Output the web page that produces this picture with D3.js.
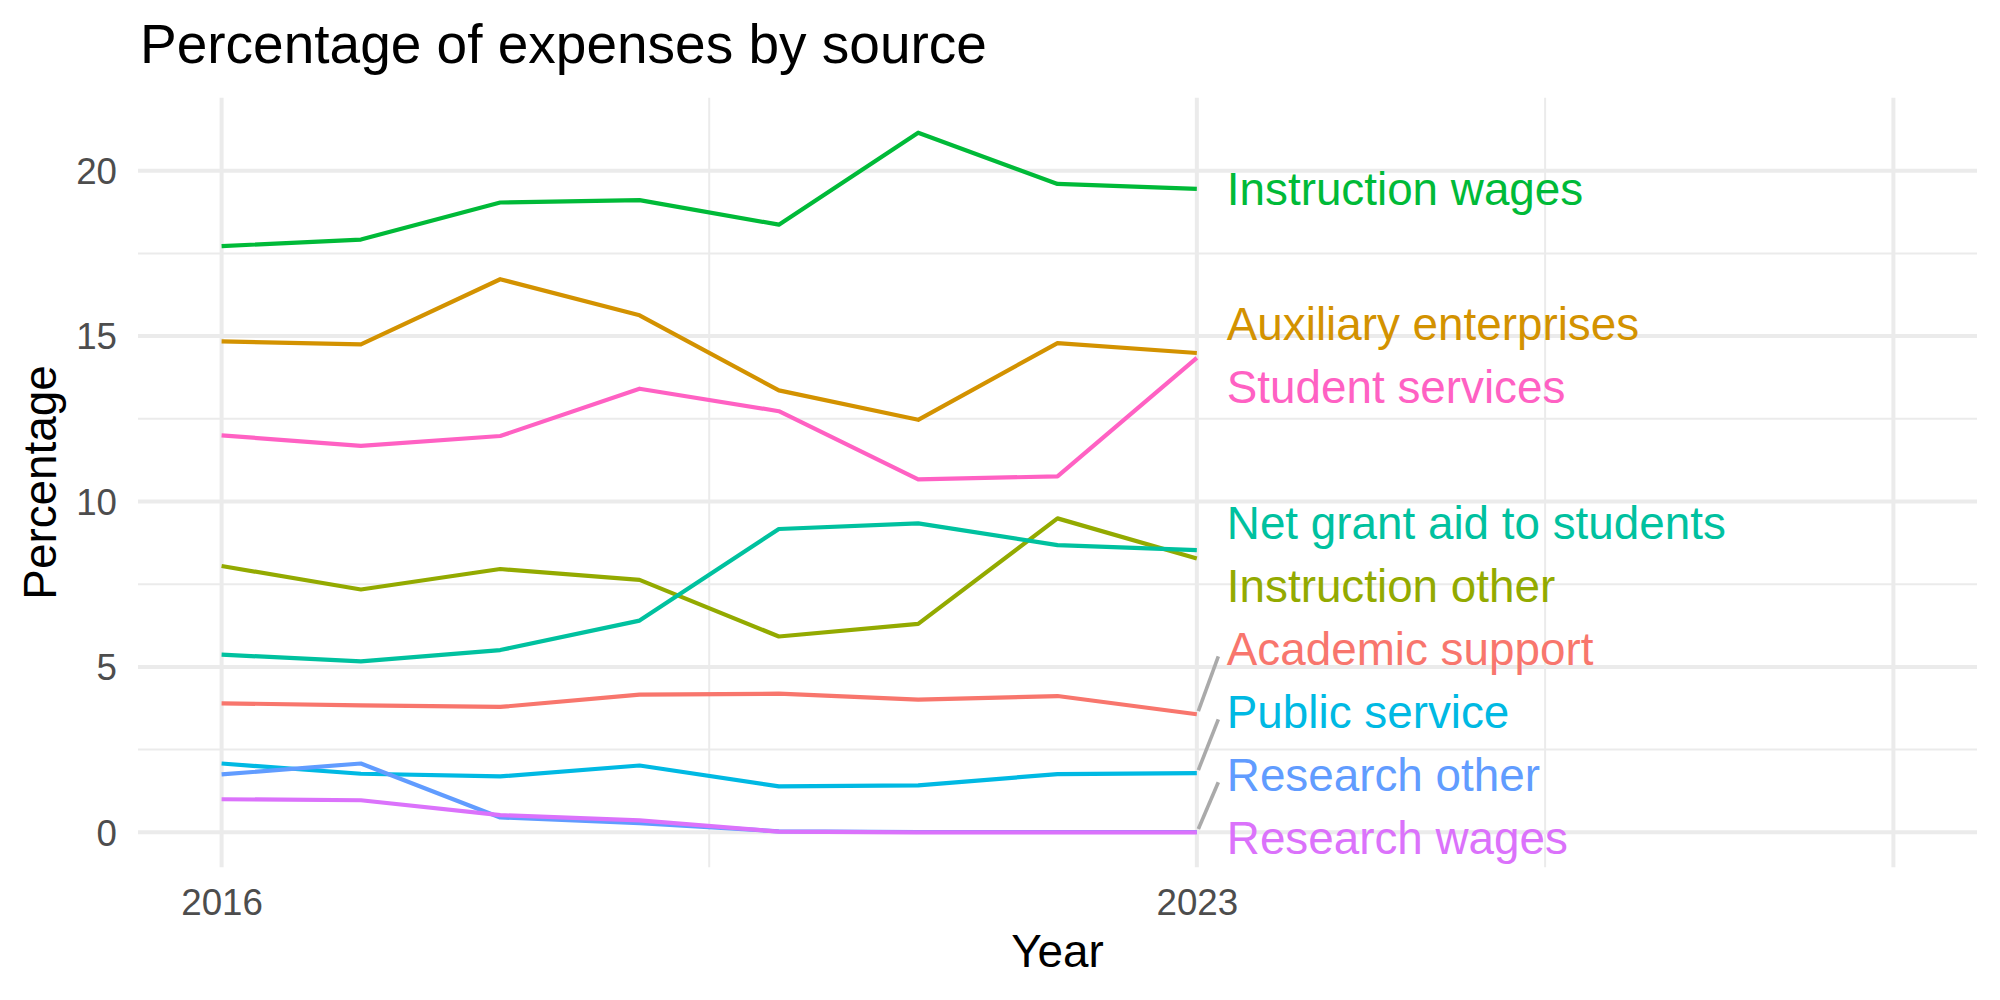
<!DOCTYPE html>
<html>
<head>
<meta charset="utf-8">
<script src="https://cdn.jsdelivr.net/npm/d3@7"></script>
<style>
  body { margin: 0; background: #fff; }
  svg { display: block; font-family: "Liberation Sans", Arial, sans-serif; }
</style>
</head>
<body>
<svg id="chart"></svg>
<script>
// data
const years = [2016, 2017, 2018, 2019, 2020, 2021, 2022, 2023];
const xBreaks = [2016, 2023, 2028];
const xLabels = ["2016", "2023", ""];
const yBreaks = [0, 5, 10, 15, 20];

const categories = [
  "Academic support", "Auxiliary enterprises", "Instruction other",
  "Instruction wages", "Net grant aid to students", "Public service",
  "Research other", "Research wages", "Student services"
];
const academicSupport      = [3.90, 3.84, 3.79, 4.16, 4.19, 4.01, 4.12, 3.57];
const auxiliaryEnterprises = [14.84, 14.75, 16.72, 15.63, 13.36, 12.47, 14.79, 14.49];
const instructionOther     = [8.05, 7.34, 7.96, 7.63, 5.92, 6.30, 9.49, 8.28];
const instructionWages     = [17.72, 17.92, 19.04, 19.11, 18.37, 21.15, 19.60, 19.45];
const netGrantAid          = [5.37, 5.17, 5.51, 6.40, 9.17, 9.34, 8.68, 8.53];
const publicService        = [2.08, 1.77, 1.69, 2.02, 1.39, 1.42, 1.76, 1.79];
const researchOther        = [1.75, 2.08, 0.45, 0.28, 0.03, 0.01, 0.01, 0.01];
const researchWages        = [1.00, 0.97, 0.52, 0.36, 0.02, 0.00, 0.00, 0.00];
const studentServices      = [12.00, 11.68, 11.98, 13.41, 12.73, 10.67, 10.76, 14.34];

const colors = ["#F8766D", "#D39200", "#93AA00", "#00BA38", "#00C19F",
                "#00B9E3", "#619CFF", "#DB72FB", "#FF61C3"];

const seriesValues = [academicSupport, auxiliaryEnterprises, instructionOther,
  instructionWages, netGrantAid, publicService, researchOther, researchWages, studentServices];

const series = categories.map((name, i) => ({
  name: name,
  color: colors[i],
  points: years.map((yr, j) => ({ year: yr, value: seriesValues[i][j] }))
}));

const W = 2000, H = 1000;
const panel = { left: 138, right: 1977, top: 97.7, bottom: 867.3 };

const svg = d3.select("#chart").attr("width", W).attr("height", H);

// ggplot style 5% expansion
const xMin = 2016, xMax = 2028;
const xPad = (xMax - xMin) * 0.05;
const x = d3.scaleLinear()
  .domain([xMin - xPad, xMax + xPad])
  .range([panel.left, panel.right]);

const allVals = seriesValues.flat();
const yLo = d3.min(allVals), yHi = d3.max(allVals);
const yPad = (yHi - yLo) * 0.05;
const y = d3.scaleLinear()
  .domain([yLo - yPad, yHi + yPad])
  .range([panel.bottom, panel.top]);

const grid = svg.append("g");

// minor grid lines
const yMinor = yBreaks.slice(0, -1).map((b, i) => (b + yBreaks[i + 1]) / 2);
const xMinor = xBreaks.slice(0, -1).map((b, i) => (b + xBreaks[i + 1]) / 2);

grid.selectAll(".ymin").data(yMinor).enter().append("line")
  .attr("x1", panel.left).attr("x2", panel.right)
  .attr("y1", d => y(d)).attr("y2", d => y(d))
  .attr("stroke", "#EBEBEB").attr("stroke-width", 2);
grid.selectAll(".xmin").data(xMinor).enter().append("line")
  .attr("y1", panel.top).attr("y2", panel.bottom)
  .attr("x1", d => x(d)).attr("x2", d => x(d))
  .attr("stroke", "#EBEBEB").attr("stroke-width", 2);

// major grid lines
grid.selectAll(".ymaj").data(yBreaks).enter().append("line")
  .attr("x1", panel.left).attr("x2", panel.right)
  .attr("y1", d => y(d)).attr("y2", d => y(d))
  .attr("stroke", "#EBEBEB").attr("stroke-width", 4);
grid.selectAll(".xmaj").data(xBreaks).enter().append("line")
  .attr("y1", panel.top).attr("y2", panel.bottom)
  .attr("x1", d => x(d)).attr("x2", d => x(d))
  .attr("stroke", "#EBEBEB").attr("stroke-width", 4);

// axes, ticks hidden like theme_minimal
const yAxis = svg.append("g")
  .attr("transform", `translate(${panel.left},0)`)
  .call(d3.axisLeft(y).tickValues(yBreaks).tickSize(0).tickPadding(21));
const xAxis = svg.append("g")
  .attr("transform", `translate(0,${panel.bottom})`)
  .call(d3.axisBottom(x).tickValues(xBreaks).tickFormat((d, i) => xLabels[i]).tickSize(0).tickPadding(21));

[yAxis, xAxis].forEach(a => {
  a.select(".domain").remove();
  a.selectAll("text")
    .attr("fill", "#4D4D4D")
    .style("font-size", "36.7px")
    .style("font-family", "'Liberation Sans', Arial, sans-serif");
});
yAxis.selectAll("text").attr("dy", "0.35em");
xAxis.selectAll("text").attr("dy", "0.72em");

// lines
const line = d3.line().x(d => x(d.year)).y(d => y(d.value));
svg.append("g").selectAll("path").data(series).enter().append("path")
  .attr("d", d => line(d.points))
  .attr("fill", "none")
  .attr("stroke", d => d.color)
  .attr("stroke-width", 4.2)
  .attr("stroke-linejoin", "round");

// end labels, pushed apart like ggrepel
const lastYear = years[years.length - 1];
const gap = 63;
const maxCenter = panel.bottom - 30;
let labels = series.map(s => {
  const v = s.points[s.points.length - 1].value;
  return { s: s, target: y(v), pos: y(v) };
}).sort((a, b) => a.target - b.target);

let groups = labels.map(l => ({ items: [l], center: l.target }));
let merged = true;
function place(g) {
  const n = g.items.length;
  let start = g.center - (n - 1) * gap / 2;
  const end = start + (n - 1) * gap;
  if (end > maxCenter) start -= end - maxCenter;
  g.start = start;
  g.end = start + (n - 1) * gap;
}
groups.forEach(place);
while (merged) {
  merged = false;
  for (let i = 0; i < groups.length - 1; i++) {
    const a = groups[i], b = groups[i + 1];
    if (b.start - a.end < gap) {
      const items = a.items.concat(b.items);
      const g = { items: items, center: d3.mean(items, d => d.target) };
      place(g);
      groups.splice(i, 2, g);
      merged = true;
      break;
    }
  }
}
groups.forEach(g => g.items.forEach((l, k) => { l.pos = g.start + k * gap; }));

const lx = x(lastYear);
const labG = svg.append("g");
labG.selectAll("line").data(labels.filter(l => Math.abs(l.pos - l.target) > 40)).enter().append("line")
  .attr("x1", lx + 1.5).attr("y1", d => d.target - 3)
  .attr("x2", lx + 21.5).attr("y2", d => d.pos + 8)
  .attr("stroke", "#AAAAAA").attr("stroke-width", 3.6);

labG.selectAll("text").data(labels).enter().append("text")
  .attr("x", lx + 30)
  .attr("y", d => d.pos + 16.4)
  .attr("fill", d => d.s.color)
  .style("font-size", "45.8px")
  .text(d => d.s.name);

// titles
svg.append("text")
  .attr("x", 140).attr("y", 63)
  .style("font-size", "55px").attr("fill", "#000")
  .text("Percentage of expenses by source");

svg.append("text")
  .attr("x", (panel.left + panel.right) / 2).attr("y", 967)
  .attr("text-anchor", "middle")
  .style("font-size", "45.8px").attr("fill", "#000")
  .text("Year");

svg.append("text")
  .attr("transform", `translate(56,${(panel.top + panel.bottom) / 2}) rotate(-90)`)
  .attr("text-anchor", "middle")
  .style("font-size", "45.8px").attr("fill", "#000")
  .text("Percentage");
</script>
</body>
</html>
